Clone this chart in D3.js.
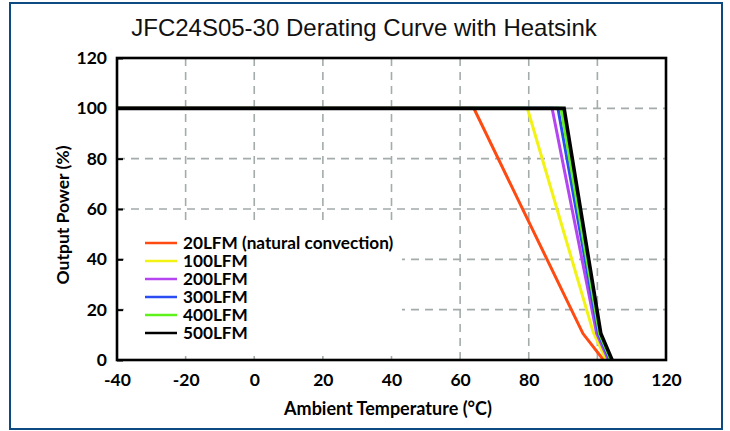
<!DOCTYPE html>
<html>
<head>
<meta charset="utf-8">
<script src="https://cdn.jsdelivr.net/npm/d3@7"></script>
<style>
  html, body { margin: 0; padding: 0; background: #fff; }
  svg { display: block; }
</style>
</head>
<body>
<svg id="chart" width="730" height="431"></svg>
<script>
// ---- data ----
const title = "JFC24S05-30 Derating Curve with Heatsink";
const xLabel = "Ambient Temperature (°C)";
const yLabel = "Output Power (%)";
const xTicks = [-40, -20, 0, 20, 40, 60, 80, 100, 120];
const yTicks = [0, 20, 40, 60, 80, 100, 120];
const seriesNames = ["20LFM (natural convection)", "100LFM", "200LFM", "300LFM", "400LFM", "500LFM"];
const seriesColors = ["#ff4a12", "#f2f213", "#b545f0", "#2a4cf2", "#5ef21a", "#000000"];
const lfm20  = [[-40, 100], [64, 100], [95.8, 10.5], [101.8, 0]];
const lfm100 = [[-40, 100], [79.6, 100], [98.8, 11], [102.6, 0]];
const lfm200 = [[-40, 100], [86.8, 100], [99.8, 10.5], [103.2, 0]];
const lfm300 = [[-40, 100], [88.5, 100], [100.3, 10.5], [103.6, 0]];
const lfm400 = [[-40, 100], [89.4, 100], [100.6, 10.5], [103.9, 0]];
const lfm500 = [[-40, 100], [90.3, 100], [101, 10.5], [104.3, 0]];
const seriesData = [lfm20, lfm100, lfm200, lfm300, lfm400, lfm500];

// ---- layout ----
const svg = d3.select("#chart");
const plot = { left: 117, right: 666, top: 58, bottom: 360 };
const x = d3.scaleLinear().domain([-40, 120]).range([plot.left, plot.right]);
const y = d3.scaleLinear().domain([0, 120]).range([plot.bottom, plot.top]);
const axisFont = "Lato, 'Open Sans', sans-serif";

// outer border
svg.append("rect").attr("x", 10).attr("y", 3).attr("width", 712).attr("height", 426)
  .attr("fill", "#fff").attr("stroke", "#0e4a82").attr("stroke-width", 2);

// title
svg.append("text").attr("x", 364).attr("y", 36).attr("text-anchor", "middle")
  .attr("font-family", "'Liberation Sans', Arial, sans-serif").attr("font-size", 24)
  .attr("fill", "#111").text(title);

// grid
const grid = svg.append("g").attr("stroke", "#a3abab").attr("stroke-width", 1.6)
  .attr("stroke-dasharray", "8,6");
grid.selectAll("line.v").data(xTicks.slice(1, -1)).join("line").attr("class", "v")
  .attr("x1", d => x(d)).attr("x2", d => x(d)).attr("y1", plot.top).attr("y2", plot.bottom);
grid.selectAll("line.h").data(yTicks.slice(1, -1)).join("line").attr("class", "h")
  .attr("y1", d => y(d)).attr("y2", d => y(d)).attr("x1", plot.left).attr("x2", plot.right);

// legend background (covers grid)
svg.append("rect").attr("x", 124).attr("y", 224).attr("width", 278).attr("height", 132).attr("fill", "#fff");

// axes
const fmt = d => String(d);
const xAxis = d3.axisBottom(x).tickValues(xTicks).tickFormat(fmt).tickSize(0).tickPadding(13);
const yAxis = d3.axisLeft(y).tickValues(yTicks).tickFormat(fmt).tickSize(-6).tickPadding(10);
const gx = svg.append("g").attr("transform", `translate(0,${plot.bottom})`).call(xAxis);
const gy = svg.append("g").attr("transform", `translate(${plot.left},0)`).call(yAxis);
[gx, gy].forEach(g => {
  g.select(".domain").remove();
  g.selectAll("text").attr("font-family", axisFont).attr("font-weight", 700)
    .attr("font-size", 17.5).attr("fill", "#000");
  g.selectAll(".tick line").attr("stroke", "#000").attr("stroke-width", 2);
});
gx.selectAll("text").attr("dy", "0.72em");

// lines
const line = d3.line().x(d => x(d[0])).y(d => y(d[1]));
svg.append("g").selectAll("path").data(seriesData).join("path")
  .attr("d", line).attr("fill", "none")
  .attr("stroke", (d, i) => seriesColors[i])
  .attr("stroke-width", (d, i) => i === 5 ? 3.6 : 3)
  .attr("stroke-linejoin", "miter");

// plot frame
svg.append("rect").attr("x", plot.left).attr("y", plot.top)
  .attr("width", plot.right - plot.left).attr("height", plot.bottom - plot.top)
  .attr("fill", "none").attr("stroke", "#000").attr("stroke-width", 2.6);

// axis titles
svg.append("text").attr("x", 388).attr("y", 415).attr("text-anchor", "middle")
  .attr("font-family", axisFont).attr("font-weight", 700).attr("font-size", 18)
  .attr("fill", "#000").text(xLabel);
svg.append("text").attr("transform", `translate(69,215) rotate(-90)`)
  .attr("text-anchor", "middle")
  .attr("font-family", axisFont).attr("font-weight", 700).attr("font-size", 17.5)
  .attr("fill", "#000").text(yLabel);

// legend
const leg = svg.append("g");
const rows = leg.selectAll("g").data(seriesNames).join("g")
  .attr("transform", (d, i) => `translate(145,${243 + i * 18})`);
rows.append("line").attr("x1", 0).attr("x2", 32).attr("y1", 0).attr("y2", 0)
  .attr("stroke", (d, i) => seriesColors[i]).attr("stroke-width", 2.5);
rows.append("text").attr("x", 38).attr("y", 0).attr("dy", "0.36em")
  .attr("font-family", axisFont).attr("font-weight", 700).attr("font-size", 17.2)
  .attr("fill", "#000").text(d => d);
</script>
</body>
</html>
